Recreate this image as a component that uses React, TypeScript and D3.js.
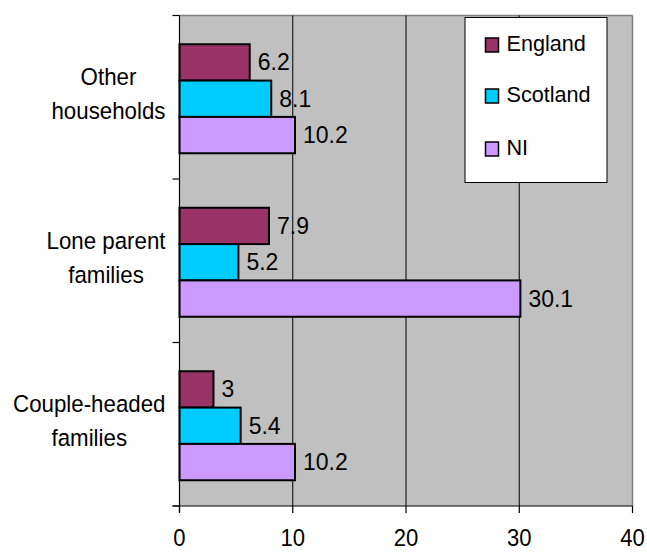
import React, { useEffect, useRef } from "react";
import * as d3 from "d3";

const categories = ["Other households", "Lone parent families", "Couple-headed families"];
const categoryLines = [["Other", "households"], ["Lone parent", "families"], ["Couple-headed", "families"]];
const seriesNames = ["England", "Scotland", "NI"];
const england = [6.2, 7.9, 3];
const scotland = [8.1, 5.2, 5.4];
const ni = [10.2, 30.1, 10.2];
const xTicks = [0, 10, 20, 30, 40];
const colors = ["#993366", "#00CCFF", "#CC99FF"];

const W = 647;
const H = 552;
const FONT = "'Liberation Sans', Arial, sans-serif";

type Sel = d3.Selection<any, unknown, null, undefined>;

function addText(parent: Sel, x: number, y: number, s: string, size: number, sx: number, anchor = "start") {
  const g = parent.append("g").attr("transform", `translate(${x},${y}) scale(${sx},1)`);
  const t = g.append("text").attr("x", 0).attr("y", 0).attr("text-anchor", anchor)
    .attr("font-family", FONT).attr("font-size", size).attr("fill", "#000").text(s);
  return { g, t };
}

export default function App() {
  const ref = useRef<SVGSVGElement | null>(null);

  useEffect(() => {
    const svg = d3.select(ref.current) as unknown as Sel;
    svg.selectAll("*").remove();

    const left = 179.5, right = 632.5, top = 15.5, bottom = 506;
    const x = d3.scaleLinear().domain([0, 40]).range([left, right]);
    const y = d3.scaleBand<string>().domain(categories).range([top, bottom]).paddingInner(0).paddingOuter(0);
    const band = y.bandwidth();
    const barH = band / (3 + 1.5);
    const seriesVals = [england, scotland, ni];

    // plot background
    svg.append("rect").attr("x", left).attr("y", top).attr("width", right - left).attr("height", bottom - top)
      .attr("fill", "#C0C0C0");
    svg.append("line").attr("x1", left).attr("x2", right).attr("y1", top).attr("y2", top).attr("stroke", "#808080").attr("stroke-width", 1.5);
    svg.append("line").attr("x1", right).attr("x2", right).attr("y1", top).attr("y2", bottom).attr("stroke", "#808080").attr("stroke-width", 1.5);

    // gridlines
    xTicks.slice(1, -1).forEach((t) => {
      svg.append("line").attr("x1", x(t)).attr("x2", x(t)).attr("y1", top).attr("y2", bottom)
        .attr("stroke", "#000").attr("stroke-width", 1);
    });

    // bars
    categories.forEach((c, ci) => {
      const g0 = (y(c) as number) + (band - 3 * barH) / 2 + 1.5;
      seriesVals.forEach((vals, si) => {
        const v = vals[ci];
        const by = g0 + si * barH;
        svg.append("rect").attr("x", x(0)).attr("y", by).attr("width", x(v) - x(0)).attr("height", barH)
          .attr("fill", colors[si]).attr("stroke", "#000").attr("stroke-width", 2);
        addText(svg, x(v) + 8, by + barH / 2 + 8, String(v), 23, 1);
      });
    });

    // left axis
    svg.append("line").attr("x1", left).attr("x2", left).attr("y1", top).attr("y2", bottom + 6).attr("stroke", "#000").attr("stroke-width", 1.2);
    const catTicks = [top, ...categories.map((c) => (y(c) as number) + band)];
    catTicks.forEach((ty) => {
      svg.append("line").attr("x1", left - 7).attr("x2", left).attr("y1", ty).attr("y2", ty).attr("stroke", "#000").attr("stroke-width", 1.2);
    });
    // bottom axis
    svg.append("line").attr("x1", left - 7).attr("x2", right).attr("y1", bottom).attr("y2", bottom).attr("stroke", "#000").attr("stroke-width", 1.2);
    xTicks.forEach((t) => {
      svg.append("line").attr("x1", x(t)).attr("x2", x(t)).attr("y1", bottom).attr("y2", bottom + 7).attr("stroke", "#000").attr("stroke-width", 1.2);
      addText(svg, x(t), 546, String(t), 24, 0.92, "middle");
    });

    // category labels
    const labelSize = 23.3, labelSx = 0.957;
    categories.forEach((c, ci) => {
      const lines = categoryLines[ci];
      const cy = (y(c) as number) + band / 2 - 3;
      const items = lines.map((ln, li) =>
        addText(svg, 0, cy + 8 + (li - (lines.length - 1) / 2) * 34, ln, labelSize, labelSx, "middle")
      );
      const maxW = (d3.max(items, (it) => (it.t.node() as SVGTextElement).getComputedTextLength()) || 0) * labelSx;
      const cx = 165.5 - maxW / 2;
      items.forEach((it, li) => {
        const yy = cy + 8 + (li - (lines.length - 1) / 2) * 34;
        it.g.attr("transform", `translate(${cx},${yy}) scale(${labelSx},1)`);
      });
    });

    // legend
    const lg = svg.append("g");
    lg.append("rect").attr("x", 465).attr("y", 17.5).attr("width", 142).attr("height", 165)
      .attr("fill", "#fff").attr("stroke", "#000").attr("stroke-width", 1);
    const legendY = [45, 96, 149];
    seriesNames.forEach((s, si) => {
      lg.append("rect").attr("x", 485.5).attr("y", legendY[si] - 7).attr("width", 13).attr("height", 14)
        .attr("fill", colors[si]).attr("stroke", "#000").attr("stroke-width", 1.5);
      addText(lg as unknown as Sel, 506.5, legendY[si] + 5.5, s, 22.3, 0.97);
    });
  }, []);

  return (
    <svg ref={ref} width={W} height={H} style={{ position: "absolute", left: 0, top: 0, background: "#fff" }} />
  );
}
